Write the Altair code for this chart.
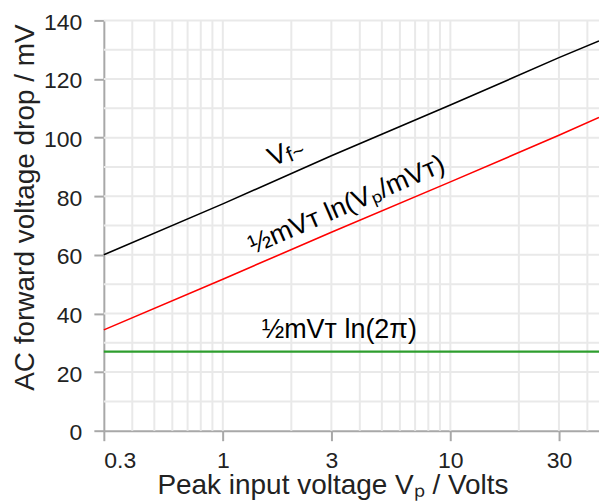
import altair as alt
import pandas as pd

# Data
vp = [0.3, 1, 3, 10, 30, 45]
vf_black = [60.0, 77.4, 93.8, 111.1, 127.3, 133.0]
ln_ratio_red = [34.4, 51.7, 67.7, 84.9, 100.8, 106.9]
ln_2pi_green = [27.0, 27.0, 27.0, 27.0, 27.0, 27.0]

x_ticks = [0.3, 1, 3, 10, 30]
y_ticks = [0, 20, 40, 60, 80, 100, 120, 140]
x_grid = [0.4, 0.5, 0.6, 0.7, 0.8, 0.9, 1, 2, 3, 4, 5, 6, 7, 8, 9, 10, 20, 30, 40]
y_grid = [10, 20, 30, 40, 50, 60, 70, 80, 90, 100, 110, 120, 130, 140]

FONT = "Liberation Sans"

df = pd.DataFrame({
    "vp": vp * 3,
    "mv": vf_black + ln_ratio_red + ln_2pi_green,
    "series": ["black"] * 6 + ["red"] * 6 + ["green"] * 6,
})

xscale = alt.Scale(type="log", domain=[0.3, 45], nice=False)
yscale = alt.Scale(domain=[0, 140], nice=False)

xgrid = alt.Chart(pd.DataFrame({"g": x_grid})).mark_rule(
    color="#e9e9e9", strokeWidth=2
).encode(x=alt.X("g:Q", scale=xscale))

ygrid = alt.Chart(pd.DataFrame({"g": y_grid})).mark_rule(
    color="#e9e9e9", strokeWidth=2
).encode(y=alt.Y("g:Q", scale=yscale))

xaxis = alt.Axis(
    values=x_ticks, format="~g", grid=False,
    title="Peak input voltage Vₚ / Volts",
    titleX=229, titleY=63, titleBaseline="alphabetic", titleAlign="center",
)
yaxis = alt.Axis(
    values=y_ticks, grid=False,
    title="AC forward voltage drop / mV",
    titleX=-78, titleY=187, titleBaseline="middle", titleAlign="center", titleAngle=270,
    labelOffset=2,
)

base = alt.Chart(df).encode(
    x=alt.X("vp:Q", scale=xscale, axis=xaxis),
    y=alt.Y("mv:Q", scale=yscale, axis=yaxis),
    color=alt.Color("series:N", scale=alt.Scale(domain=["black", "red", "green"],
                                                range=["#000000", "#ff0000", "#2e9e2e"]), legend=None),
    detail="series:N",
)
lines_br = base.mark_line(strokeWidth=1.6).transform_filter("datum.series != 'green'")
line_g = base.mark_line(strokeWidth=2.4).transform_filter("datum.series == 'green'")

ANG = 336.6

lab_v = alt.Chart(pd.DataFrame({"x": [1.89], "y": [95.0], "t": ["V"]})).mark_text(
    angle=ANG, align="right", baseline="middle", fontSize=27, font=FONT, color="#000"
).encode(x=alt.X("x:Q", scale=xscale), y=alt.Y("y:Q", scale=yscale), text="t:N")

lab_f = alt.Chart(pd.DataFrame({"x": [1.89], "y": [95.0], "t": ["f~"]})).mark_text(
    angle=ANG, align="left", baseline="middle", fontSize=21, font=FONT, color="#000", dx=0, dy=5
).encode(x=alt.X("x:Q", scale=xscale), y=alt.Y("y:Q", scale=yscale), text="t:N")

lab_red = alt.Chart(pd.DataFrame({"x": [3.51], "y": [77.0], "t": ["½mVᴛ ln(Vₚ/mVᴛ)"]})).mark_text(
    angle=ANG, align="center", baseline="middle", fontSize=27, font=FONT, color="#000"
).encode(x=alt.X("x:Q", scale=xscale), y=alt.Y("y:Q", scale=yscale), text="t:N")

lab_green = alt.Chart(pd.DataFrame({"x": [3.25], "y": [31.5], "t": ["½mVᴛ ln(2π)"]})).mark_text(
    align="center", baseline="alphabetic", fontSize=27, font=FONT, color="#000"
).encode(x=alt.X("x:Q", scale=xscale), y=alt.Y("y:Q", scale=yscale), text="t:N")

chart = alt.layer(xgrid, ygrid, lines_br, line_g, lab_v, lab_f, lab_red, lab_green).properties(
    width=496,
    height=411,
    autosize=alt.AutoSizeParams(type="none"),
    padding={"left": 96, "top": 12, "right": 0, "bottom": 72},
).configure_view(stroke=None).configure_axis(
    domainColor="#a8a8a8", domainWidth=2, tickColor="#a8a8a8", tickWidth=2, tickSize=10,
    labelFont=FONT, labelFontSize=23, labelColor="#222", labelPadding=9,
    titleFont=FONT, titleFontSize=28, titleFontWeight="normal", titleColor="#222",
).configure_axisY(labelPadding=12)

chart.save("out.html", embed_options={"renderer": "svg", "actions": False})
